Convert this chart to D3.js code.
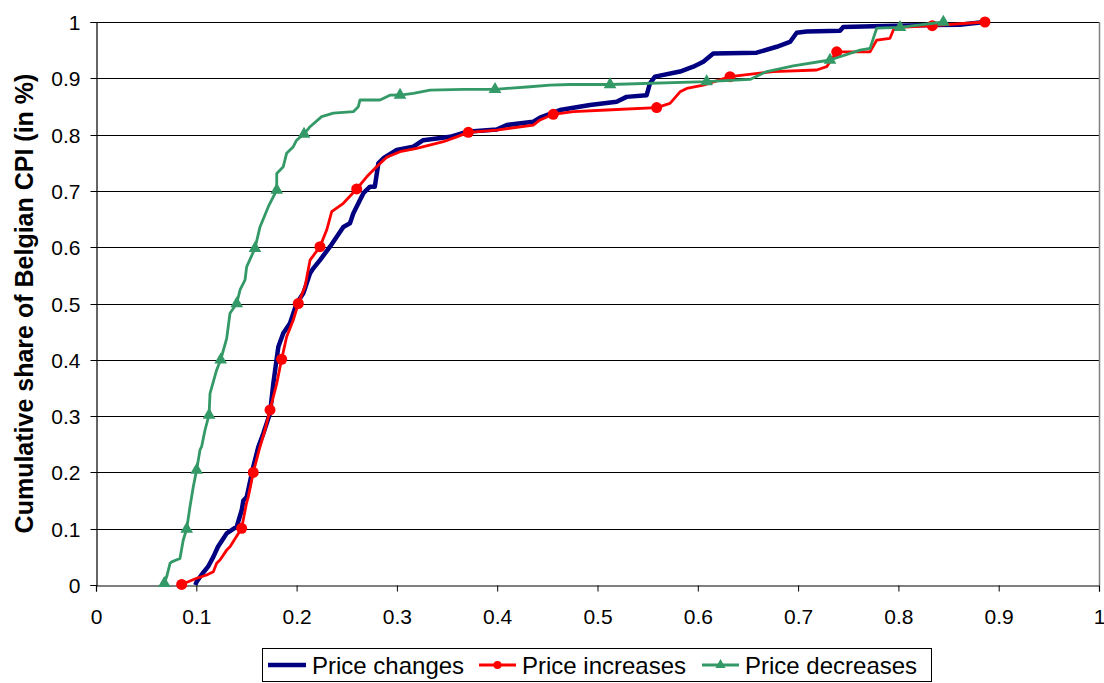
<!DOCTYPE html>
<html><head><meta charset="utf-8">
<script src="https://cdn.jsdelivr.net/npm/d3@7"></script>
<style>
html,body{margin:0;padding:0;background:#fff;}
svg{display:block;font-family:"Liberation Sans",Arial,sans-serif;}
</style></head>
<body><svg id="c" width="1104" height="683"></svg>
<script>
const xTicks = [0,0.1,0.2,0.3,0.4,0.5,0.6,0.7,0.8,0.9,1];
const yTicks = [0,0.1,0.2,0.3,0.4,0.5,0.6,0.7,0.8,0.9,1];
const seriesNames = ["Price changes","Price increases","Price decreases"];

const priceChanges = [
[0.099,0.000],[0.1004,0.006],[0.106,0.020],[0.1117,0.0325],[0.117,0.050],[0.1216,0.068],[0.126,0.080],
[0.1303,0.0917],[0.1403,0.1035],[0.1453,0.1332],[0.1469,0.150],[0.1502,0.156],[0.1568,0.210],[0.1618,0.245],
[0.1668,0.269],[0.1735,0.305],[0.1768,0.358],[0.1800,0.400],[0.1818,0.423],[0.1867,0.447],[0.1934,0.465],
[0.2000,0.500],[0.2067,0.518],[0.2134,0.5537],[0.2167,0.5625],[0.2233,0.577],[0.2333,0.601],[0.2466,0.636],
[0.2532,0.6424],[0.2565,0.660],[0.2632,0.684],[0.2666,0.696],[0.2732,0.7075],[0.2780,0.7075],[0.2815,0.749],
[0.2865,0.758],[0.2998,0.7726],[0.3164,0.7785],[0.3263,0.790],[0.3397,0.793],[0.3530,0.796],[0.3696,0.805],
[0.3995,0.809],[0.4095,0.817],[0.4360,0.823],[0.4427,0.830],[0.4626,0.8437],[0.4925,0.8526],[0.5191,0.8585],
[0.5290,0.867],[0.5490,0.870],[0.5523,0.891],[0.5573,0.903],[0.5823,0.912],[0.5955,0.9206],[0.6055,0.9295],
[0.6154,0.944],[0.6587,0.9455],[0.6787,0.956],[0.6919,0.9645],[0.6986,0.981],[0.7085,0.983],[0.7418,0.9845],
[0.7450,0.991],[0.7850,0.993],[0.8348,0.9947],[0.8610,0.995],[0.8860,1.000]
];
const priceIncreases = [
[0.0854,0.001],[0.0937,0.007],[0.1004,0.012],[0.1103,0.0178],[0.117,0.0237],[0.1203,0.0385],[0.1236,0.0444],
[0.1303,0.062],[0.1336,0.068],[0.1452,0.1007],[0.1500,0.145],[0.1519,0.157],[0.1568,0.200],[0.1635,0.2456],
[0.1685,0.2753],[0.1735,0.311],[0.1802,0.358],[0.1851,0.401],[0.1901,0.441],[0.1967,0.4707],[0.2017,0.500],
[0.2084,0.530],[0.2134,0.577],[0.2233,0.601],[0.2300,0.6305],[0.2350,0.663],[0.2466,0.678],[0.2599,0.7034],
[0.2699,0.725],[0.2798,0.743],[0.2898,0.7597],[0.3031,0.7696],[0.3197,0.7756],[0.3463,0.7874],[0.3596,0.796],
[0.3712,0.804],[0.3995,0.808],[0.4360,0.817],[0.4427,0.826],[0.4559,0.836],[0.4759,0.8407],[0.5091,0.8437],
[0.5590,0.848],[0.5723,0.8555],[0.5823,0.876],[0.5890,0.882],[0.6055,0.888],[0.6321,0.9029],[0.6753,0.912],
[0.7185,0.9147],[0.7285,0.9206],[0.7385,0.947],[0.7717,0.947],[0.7784,0.968],[0.7916,0.971],[0.7950,0.9858],
[0.8016,0.9906],[0.8338,0.9935],[0.8863,1.000]
];
const priceIncreasesMarkers = [
[0.0854,0.001],[0.1452,0.1007],[0.1568,0.200],[0.1735,0.311],[0.1851,0.401],[0.2017,0.500],[0.2233,0.601],
[0.2599,0.7034],[0.3712,0.804],[0.4559,0.836],[0.5590,0.848],[0.6321,0.9029],[0.7385,0.947],[0.8338,0.9935],[0.8863,1.000]
];
const priceDecreases = [
[0.0681,0.003],[0.0705,0.015],[0.0738,0.0385],[0.0755,0.041],[0.0837,0.047],[0.0870,0.080],[0.0904,0.0995],
[0.0937,0.139],[0.0970,0.1746],[0.1003,0.204],[0.1037,0.240],[0.1053,0.2456],[0.1087,0.2753],[0.1127,0.302],
[0.1137,0.3405],[0.1203,0.382],[0.1243,0.400],[0.1303,0.438],[0.1336,0.4826],[0.1403,0.500],[0.1436,0.524],
[0.1486,0.542],[0.1502,0.565],[0.1585,0.598],[0.1635,0.636],[0.1718,0.672],[0.1802,0.7016],[0.1802,0.731],
[0.1867,0.743],[0.1901,0.767],[0.1967,0.7785],[0.2000,0.790],[0.2074,0.801],[0.2134,0.814],[0.2250,0.832],
[0.2366,0.838],[0.2565,0.8407],[0.2615,0.8496],[0.2632,0.8615],[0.2831,0.8615],[0.2931,0.870],[0.3031,0.8703],
[0.3164,0.8734],[0.3330,0.879],[0.3662,0.8805],[0.3978,0.8805],[0.4327,0.885],[0.4526,0.888],[0.4726,0.889],
[0.5125,0.889],[0.6088,0.894],[0.6520,0.898],[0.6687,0.912],[0.6952,0.922],[0.7318,0.9325],[0.7617,0.950],
[0.7717,0.953],[0.7750,0.971],[0.7784,0.989],[0.8016,0.9906],[0.8448,1.000]
];
const priceDecreasesMarkers = [
[0.0681,0.003],[0.0904,0.0995],[0.1003,0.204],[0.1127,0.302],[0.1243,0.400],[0.1403,0.500],[0.1585,0.598],
[0.1802,0.7016],[0.2074,0.801],[0.3031,0.8703],[0.3978,0.8805],[0.5125,0.889],[0.6088,0.894],[0.7318,0.9325],
[0.8016,0.9906],[0.8448,1.000]
];

const svg = d3.select("#c");
const L = 96, R = 1099, T = 22, B = 585;
const x = d3.scaleLinear().domain([0,1]).range([L,R]);
const y = d3.scaleLinear().domain([0,1]).range([B,T]);

// gridlines
svg.append("g").selectAll("line").data(yTicks.filter(d=>d>0)).join("line")
  .attr("x1",L).attr("x2",R)
  .attr("y1",d=>Math.round(y(d))+0.5).attr("y2",d=>Math.round(y(d))+0.5)
  .attr("stroke","#000").attr("stroke-width",1);
// plot border right
svg.append("line").attr("x1",R+0.5).attr("x2",R+0.5).attr("y1",T).attr("y2",B)
  .attr("stroke","#808080").attr("stroke-width",1.5);

// axes
const yAxis = d3.axisLeft(y).tickValues(yTicks).tickSize(6).tickPadding(10)
  .tickFormat(d=>d===0?"0":(d===1?"1":d3.format(".1f")(d)));
const gy = svg.append("g").attr("transform",`translate(${L+0.5},0)`).call(yAxis);
const xAxis = d3.axisBottom(x).tickValues(xTicks).tickSize(6).tickPadding(18)
  .tickFormat(d=>d===0?"0":(d===1?"1":d3.format(".1f")(d)));
const gx = svg.append("g").attr("transform",`translate(0,${Math.round(B)+0.5})`).call(xAxis);
[gx,gy].forEach(g=>{
  g.select(".domain").attr("stroke","#000").attr("stroke-width",1.2);
  g.selectAll(".tick line").attr("stroke","#000");
  g.selectAll("text").attr("font-family","'Liberation Sans',Arial,sans-serif").attr("font-size",21).attr("fill","#000");
});
gy.selectAll(".tick line").attr("transform","translate(0,0)");
gy.selectAll(".tick").attr("transform",d=>`translate(0,${Math.round(y(d))+0.5})`);
gy.selectAll("text").attr("dy","0.36em");

// y title
svg.append("text").attr("transform",`translate(33,${(T+B)/2}) rotate(-90)`)
  .attr("text-anchor","middle").attr("font-size",25).attr("font-weight","bold")
  .attr("fill","#000").text("Cumulative share of Belgian CPI (in %)");

const line = d3.line().x(d=>x(d[0])).y(d=>y(d[1]));
const colors = ["#000080","#FF0000","#339966"];

svg.append("path").datum(priceChanges).attr("d",line).attr("fill","none")
  .attr("stroke",colors[0]).attr("stroke-width",4.5).attr("stroke-linejoin","round");
svg.append("path").datum(priceIncreases).attr("d",line).attr("fill","none")
  .attr("stroke",colors[1]).attr("stroke-width",2.8).attr("stroke-linejoin","round");
svg.append("g").selectAll("circle").data(priceIncreasesMarkers).join("circle")
  .attr("cx",d=>x(d[0])).attr("cy",d=>y(d[1])).attr("r",5.5).attr("fill",colors[1]);
svg.append("path").datum(priceDecreases).attr("d",line).attr("fill","none")
  .attr("stroke",colors[2]).attr("stroke-width",2.8).attr("stroke-linejoin","round");
const tri = d3.symbol().type(d3.symbolTriangle).size(70);
svg.append("g").selectAll("path").data(priceDecreasesMarkers).join("path")
  .attr("transform",d=>`translate(${x(d[0])},${y(d[1])})`).attr("d",tri).attr("fill",colors[2]);

// legend
const lg = svg.append("g");
lg.append("rect").attr("x",262.5).attr("y",648.5).attr("width",669).attr("height",33)
  .attr("fill","#fff").attr("stroke","#000").attr("stroke-width",1);
const items = [
  {x1:268,x2:306,tx:312,w:4.5},
  {x1:479,x2:516,tx:522,w:2.8},
  {x1:702,x2:739,tx:745,w:2.8}
];
items.forEach((it,i)=>{
  lg.append("line").attr("x1",it.x1).attr("x2",it.x2).attr("y1",665).attr("y2",665)
    .attr("stroke",colors[i]).attr("stroke-width",it.w);
  const cx=(it.x1+it.x2)/2;
  if(i===1) lg.append("circle").attr("cx",cx).attr("cy",665).attr("r",4).attr("fill",colors[1]);
  if(i===2) lg.append("path").attr("transform",`translate(${cx},665)`).attr("d",d3.symbol().type(d3.symbolTriangle).size(45)).attr("fill",colors[2]);
  lg.append("text").attr("x",it.tx).attr("y",674).attr("font-size",24).attr("fill","#000").text(seriesNames[i]);
});
</script></body></html>
